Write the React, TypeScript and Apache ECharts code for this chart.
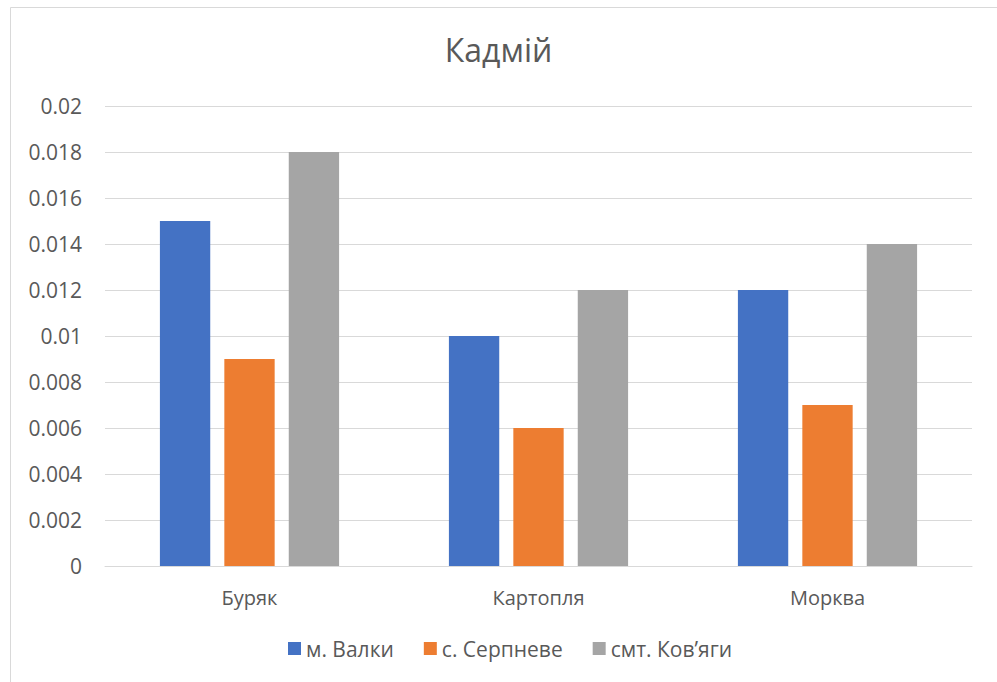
import React, { useEffect, useRef } from "react";
import * as echarts from "echarts";

const categories = ["Буряк", "Картопля", "Морква"];
const seriesNames = ["м. Валки", "с. Серпневе", "смт. Ков’яги"];
const valki = [0.015, 0.01, 0.012];
const serpneve = [0.009, 0.006, 0.007];
const kovyagy = [0.018, 0.012, 0.014];
const colors = ["#4472C4", "#ED7D31", "#A5A5A5"];

const FONT = "'Open Sans', 'Noto Sans', sans-serif";

export default function App() {
  const ref = useRef<HTMLDivElement>(null);
  useEffect(() => {
    if (!ref.current) return;
    const chart = echarts.init(ref.current, undefined, { renderer: "svg" });
    const data = [valki, serpneve, kovyagy];
    chart.setOption({
      animation: false,
      backgroundColor: "#ffffff",
      textStyle: { fontFamily: FONT, color: "#595959" },
      title: {
        text: "Кадмій",
        left: "center",
        top: 33,
        padding: 0,
        textStyle: { fontFamily: FONT, fontSize: 32, fontWeight: "normal", color: "#595959" },
      },
      graphic: [
        {
          type: "rect",
          shape: { x: 10.5, y: 7.5, width: 1000, height: 700 },
          style: { fill: "none", stroke: "#D9D9D9", lineWidth: 1 },
          silent: true,
        },
      ],
      legend: {
        top: 638,
        left: 288,
        padding: 0,
        itemWidth: 13,
        itemHeight: 13,
        itemGap: 30,
        icon: "rect",
        textStyle: { fontFamily: FONT, fontSize: 21, color: "#595959" },
        data: seriesNames,
      },
      grid: { left: 105, right: 25, top: 106, bottom: 116, containLabel: false },
      xAxis: {
        type: "category",
        data: categories,
        axisLine: { lineStyle: { color: "#D9D9D9", width: 1 } },
        axisTick: { show: false },
        axisLabel: { fontFamily: FONT, fontSize: 20, color: "#595959", margin: 21 },
      },
      yAxis: {
        type: "value",
        min: 0,
        max: 0.02,
        interval: 0.002,
        axisLine: { show: false },
        axisTick: { show: false },
        splitLine: { lineStyle: { color: "#D9D9D9", width: 1 } },
        axisLabel: {
          fontFamily: FONT,
          fontSize: 21,
          color: "#595959",
          margin: 23,
          formatter: (v: number) => (v === 0 ? "0" : String(Number(v.toFixed(3)))),
        },
      },
      series: seriesNames.map((name, i) => ({
        name,
        type: "bar",
        data: data[i],
        itemStyle: { color: colors[i] },
        barGap: "28%",
        barCategoryGap: "38%",
      })),
    });
    return () => chart.dispose();
  }, []);
  return (
    <div
      ref={ref}
      style={{ position: "absolute", left: 0, top: 0, width: 997, height: 682 }}
    />
  );
}
